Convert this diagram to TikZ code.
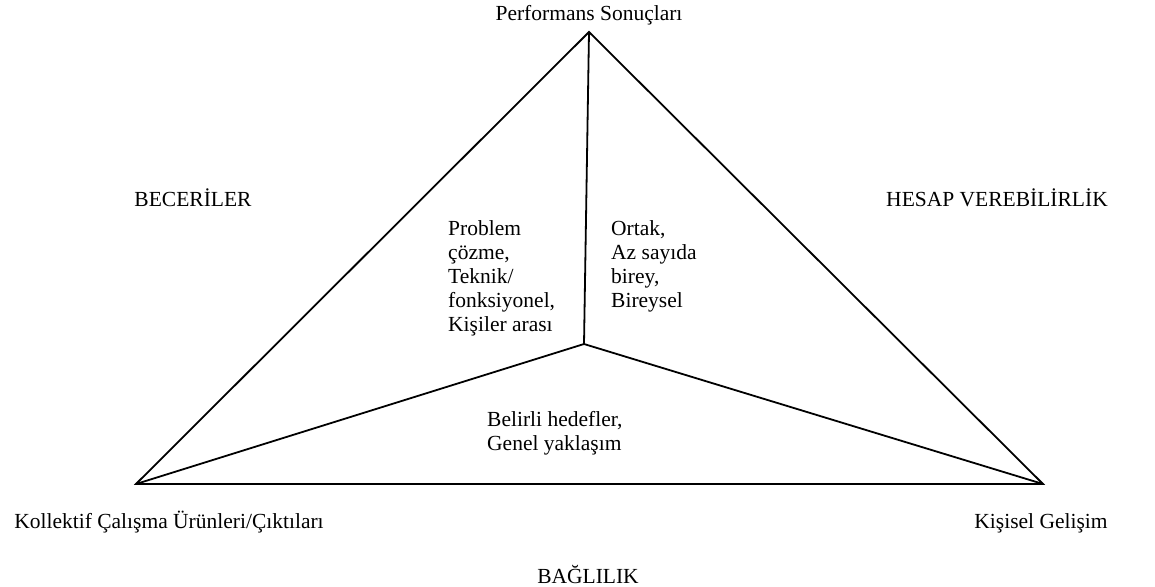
\documentclass[tikz,border=0pt]{standalone}
\usepackage{fontspec}
\setmainfont{Liberation Serif}
\begin{document}
\begin{tikzpicture}[x=1pt,y=-1pt,
  edge/.style={line width=1.8pt,line join=miter},
  lbl/.style={font=\fontsize{21.5}{24}\selectfont,inner sep=0pt,anchor=base},
  inner/.style={font=\fontsize{21.5}{24}\selectfont,inner sep=0pt,align=left,anchor=base west}]
\useasboundingbox (0,0) rectangle (1155,586);
% triangle corners and the inner meeting point
\coordinate (top) at (589,32);
\coordinate (bl) at (136,484);
\coordinate (br) at (1043,484);
\coordinate (mid) at (584,344);
\draw[edge] (bl) -- (top) -- (br) -- cycle;
\draw[edge] (top) -- (mid);
\draw[edge] (bl) -- (mid) -- (br);
% corner and side captions
\node[lbl] (perf) at (589,21) {Performans Sonuçları};
\node[lbl] (bec) at (193,206) {BECERİLER};
\node[lbl] (hes) at (997,206) {HESAP VEREBİLİRLİK};
\node[lbl] (kol) at (169,528) {Kollektif Çalışma Ürünleri/Çıktıları};
\node[lbl] (kis) at (1041,528) {Kişisel Gelişim};
\node[lbl] (bag) at (588,583) {BAĞLILIK};
% texts inside the three areas (anchored on the baseline of their last line)
\node[inner] (skills) at (448,331) {Problem\\çözme,\\Teknik/\\fonksiyonel,\\Kişiler arası};
\node[inner] (acct) at (611,307) {Ortak,\\Az sayıda\\birey,\\Bireysel};
\node[inner] (goals) at (487,450) {Belirli hedefler,\\Genel yaklaşım};
\end{tikzpicture}
\end{document}
